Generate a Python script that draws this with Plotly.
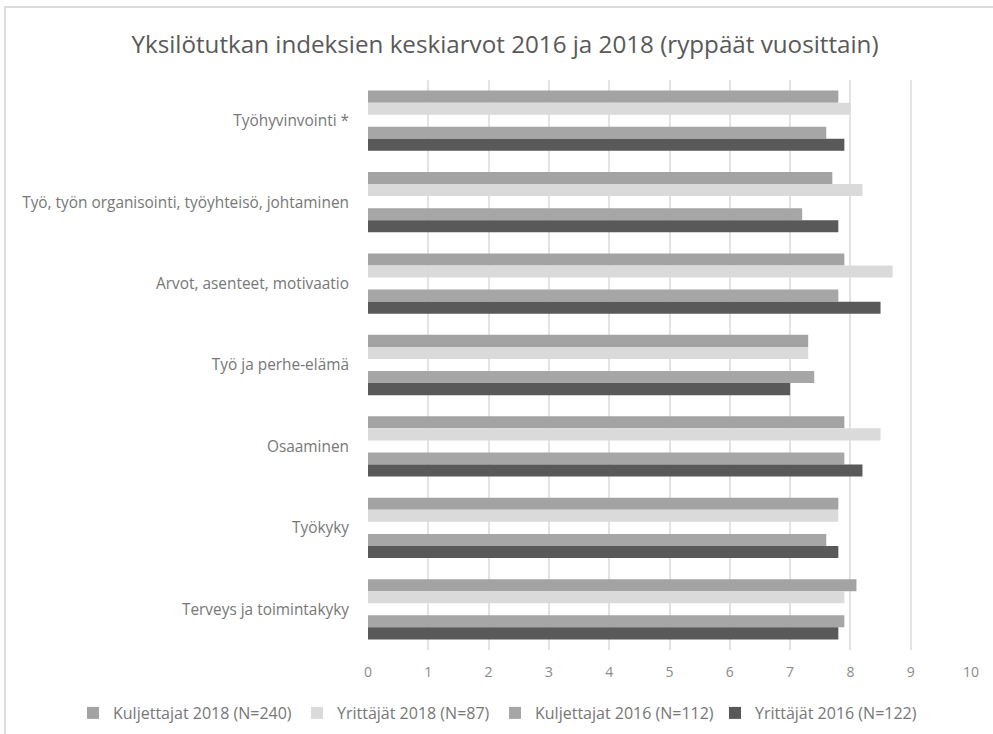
import plotly.graph_objects as go

categories = [
    "Työhyvinvointi *",
    "Työ, työn organisointi, työyhteisö, johtaminen",
    "Arvot, asenteet, motivaatio",
    "Työ ja perhe-elämä",
    "Osaaminen",
    "Työkyky",
    "Terveys ja toimintakyky",
]
kuljettajat_2018 = [7.8, 7.7, 7.9, 7.3, 7.9, 7.8, 8.1]
yrittajat_2018 = [8.0, 8.2, 8.7, 7.3, 8.5, 7.8, 7.9]
kuljettajat_2016 = [7.6, 7.2, 7.8, 7.4, 7.9, 7.6, 7.9]
yrittajat_2016 = [7.9, 7.8, 8.5, 7.0, 8.2, 7.8, 7.8]
spacer = [0, 0, 0, 0, 0, 0, 0]
x_ticks = list(range(0, 11))

# (name, values, colour, legend id, legend text start px)
series = [
    ("Kuljettajat 2018 (N=240)", kuljettajat_2018, "#a3a3a3", "legend", 113),
    ("Yrittäjät 2018 (N=87)", yrittajat_2018, "#dadada", "legend2", 337),
    ("", spacer, "rgba(0,0,0,0)", None, None),
    ("Kuljettajat 2016 (N=112)", kuljettajat_2016, "#a6a6a6", "legend3", 535),
    ("Yrittäjät 2016 (N=122)", yrittajat_2016, "#595959", "legend4", 755),
]

W, H = 993, 734
font_family = "'Open Sans', Lato, sans-serif"

fig = go.Figure()
legend_layout = {}
for name, vals, color, leg, text_x in series:
    kw = dict(y=categories, x=vals, orientation="h", name=name,
              marker=dict(color=color, line=dict(width=0)))
    if leg is None:
        kw.update(showlegend=False, hoverinfo="skip")
    else:
        kw.update(showlegend=True, legend=leg)
        legend_layout[leg] = dict(
            orientation="h", x=(text_x - 40) / W, xref="container", xanchor="left",
            y=1 - 713 / H, yref="container", yanchor="middle",
            font=dict(family=font_family, size=16, color="#777777"),
            itemwidth=30, bgcolor="rgba(0,0,0,0)", borderwidth=0,
        )
    fig.add_trace(go.Bar(**kw))

fig.update_layout(
    width=W, height=H,
    paper_bgcolor="white", plot_bgcolor="white",
    barmode="group", bargap=0.26, bargroupgap=0,
    margin=dict(l=368, r=22, t=80, b=84),
    title=dict(
        text="Yksilötutkan indeksien keskiarvot 2016 ja 2018 (ryppäät vuosittain)",
        x=505 / W, xref="container", xanchor="center", y=1 - 45 / H, yanchor="middle",
        font=dict(family=font_family, size=24.2, color="#595959"),
    ),
    font=dict(family=font_family, color="#7f7f7f", size=13),
    xaxis=dict(
        range=[0, 10], tickvals=x_ticks, showgrid=True, gridcolor="#e3e3e3",
        gridwidth=2, zeroline=False, showline=False,
        tickfont=dict(size=14, color="#8a8a8a"), ticks="", ticklabelstandoff=12,
    ),
    yaxis=dict(
        autorange="reversed", showgrid=False, zeroline=False, showline=False,
        ticks="", ticklabelstandoff=18,
        tickfont=dict(size=15.4, color="#777777"),
    ),
    shapes=[dict(
        type="rect", xref="paper", yref="paper",
        x0=(5 - 368) / 603, x1=(1000 - 368) / 603,
        y0=(650 - 740) / 570, y1=(650 - 7) / 570,
        line=dict(color="#dcdcdc", width=2), fillcolor="rgba(0,0,0,0)",
        layer="below",
    )],
    **legend_layout,
)

fig.write_html(
    "out.html",
    config={"displayModeBar": False},
    post_script="document.body.style.margin='0';document.body.style.overflow='hidden';",
)
